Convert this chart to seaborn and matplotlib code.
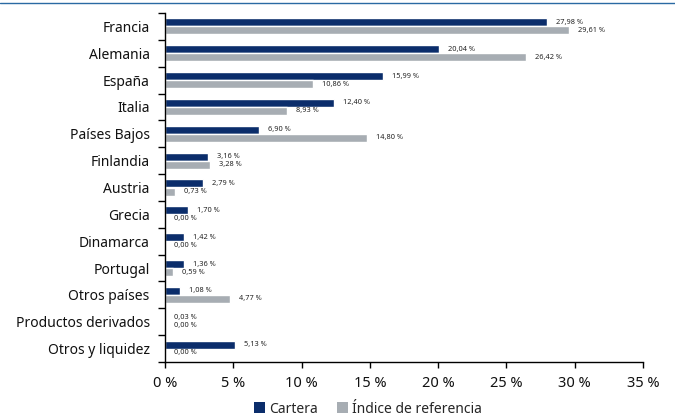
import matplotlib
matplotlib.use("Agg")
import matplotlib.pyplot as plt
from matplotlib.patches import Patch
from matplotlib.lines import Line2D
from matplotlib.ticker import FixedLocator
import seaborn as sns
import pandas as pd
import numpy as np

categories = ["Francia", "Alemania", "España", "Italia", "Países Bajos", "Finlandia",
              "Austria", "Grecia", "Dinamarca", "Portugal", "Otros países",
              "Productos derivados", "Otros y liquidez"]
cartera = [27.98, 20.04, 15.99, 12.40, 6.90, 3.16, 2.79, 1.70, 1.42, 1.36, 1.08, 0.03, 5.13]
indice = [29.61, 26.42, 10.86, 8.93, 14.80, 3.28, 0.73, 0.00, 0.00, 0.59, 4.77, 0.00, 0.00]
series_names = ["Cartera", "Índice de referencia"]
xticks = [0, 5, 10, 15, 20, 25, 30, 35]

navy = "#0b2d6b"
grey = "#a7adb3"

sns.set_theme(style="white")
plt.rcParams['font.family'] = ['Noto Sans', 'DejaVu Sans']

df = pd.DataFrame({
    "categoria": categories * 2,
    "valor": cartera + indice,
    "serie": [series_names[0]] * len(categories) + [series_names[1]] * len(categories),
})

fig = plt.figure(figsize=(6.75, 4.19), dpi=100)
ax = fig.add_axes([165/675, 1 - 362/419, (643-165)/675, (362-13)/419])

sns.barplot(data=df, y="categoria", x="valor", hue="serie", order=categories,
            hue_order=series_names, palette=[navy, grey], orient="h",
            width=0.6, ax=ax, legend=False, saturation=1, errorbar=None)

for container in ax.containers:
    labels = [f"{v:.2f}".replace(".", ",") + " %" for v in container.datavalues]
    ax.bar_label(container, labels=labels, padding=6.5, fontsize=5.3, color="#222222")

ax.set_xlim(0, 35)
ax.set_ylim(len(categories) - 0.5, -0.5)
ax.set_xticks(xticks)
ax.set_xticklabels([f"{t} %" for t in xticks], fontsize=10.5)
ax.set_xlabel("")
ax.set_ylabel("")
ax.tick_params(axis="y", which="major", length=0, labelsize=10, pad=11, colors="#111111")
ax.yaxis.set_minor_locator(FixedLocator(np.arange(-0.5, len(categories), 1.0)))
ax.tick_params(axis="y", which="minor", length=5, width=1, color="black", left=True)
ax.tick_params(axis="x", which="major", length=4, width=1, color="black", bottom=True,
               labelsize=10.5, pad=6, colors="#111111")
for s in ["top", "right"]:
    ax.spines[s].set_visible(False)
for s in ["left", "bottom"]:
    ax.spines[s].set_color("black")
    ax.spines[s].set_linewidth(1)

handles = [Patch(facecolor=navy, edgecolor="none"), Patch(facecolor=grey, edgecolor="none")]
fig.legend(handles, series_names, loc="center", bbox_to_anchor=(368/675, 1 - 409/419),
           ncol=2, frameon=False, fontsize=10, handlelength=0.8, handleheight=0.8,
           handletextpad=0.3, columnspacing=1.4, borderaxespad=0)

fig.add_artist(Line2D([0, 1], [1 - 3/419, 1 - 3/419], color="#2a6aa3", linewidth=1,
                      transform=fig.transFigure))

fig.savefig("out.png", dpi=100)
